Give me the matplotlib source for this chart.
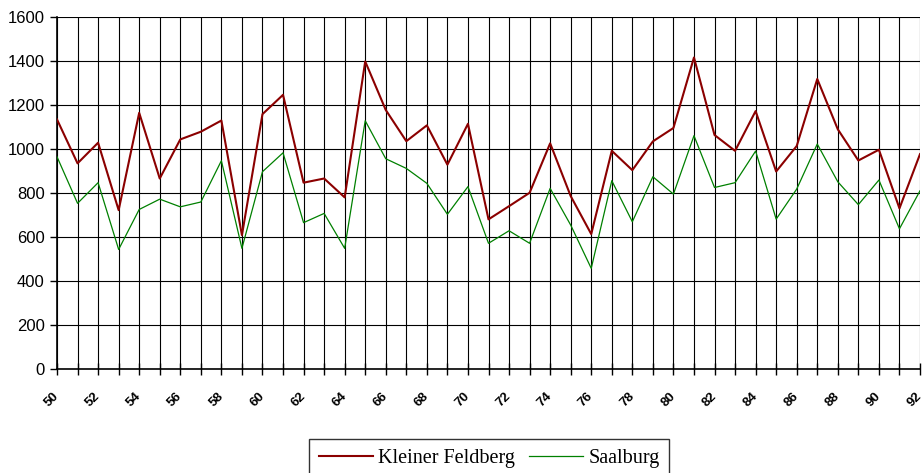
import matplotlib
matplotlib.use("Agg")
import matplotlib.pyplot as plt

years = list(range(1950, 1993))
kleiner_feldberg = [1135, 935, 1029, 722, 1165, 866, 1044, 1079, 1130, 608,
                    1159, 1247, 847, 866, 780, 1399, 1178, 1036, 1108, 929,
                    1115, 680, 740, 801, 1026, 786, 613, 992, 904, 1035,
                    1096, 1417, 1064, 992, 1173, 898, 1014, 1319, 1090, 948,
                    997, 730, 977]
saalburg = [965, 753, 847, 543, 725, 772, 737, 759, 947, 548,
            897, 983, 665, 707, 548, 1129, 956, 912, 844, 703,
            829, 571, 628, 571, 821, 654, 457, 856, 669, 874,
            795, 1061, 825, 847, 991, 681, 818, 1023, 851, 747,
            859, 637, 810]
tick_labels = [str(y % 100) if y % 2 == 0 else "" for y in years]
y_ticks = [0, 200, 400, 600, 800, 1000, 1200, 1400, 1600]

W, H = 924, 473
fig = plt.figure(figsize=(W / 100, H / 100), dpi=100)
ax = fig.add_axes([57 / W, 1 - 368.7 / H, (920 - 57) / W, (368.7 - 17.3) / H])

ax.plot(years, kleiner_feldberg, color="#8B0000", lw=1.5, label="Kleiner Feldberg", zorder=3)
ax.plot(years, saalburg, color="#008000", lw=0.9, label="Saalburg", zorder=3)

ax.set_xlim(years[0], years[-1])
ax.set_ylim(0, 1600)
ax.set_xticks(years)
ax.set_xticklabels(tick_labels, rotation=45, ha="right", va="center",
                   rotation_mode="anchor", fontsize=9.5, fontweight="bold",
                   fontfamily="Liberation Sans")
ax.set_yticks(y_ticks)
ax.set_yticklabels([str(v) for v in y_ticks], fontsize=12, fontfamily="Liberation Sans")

ax.grid(True, color="black", lw=0.8)
ax.set_axisbelow(True)
ax.tick_params(axis="x", direction="inout", length=9, width=1, pad=14)
ax.tick_params(axis="y", direction="out", length=5, width=1, pad=4)
for side in ["top", "right"]:
    ax.spines[side].set_visible(False)
for side in ["left", "bottom"]:
    ax.spines[side].set_linewidth(1.2)

leg = fig.legend(loc="upper center", bbox_to_anchor=(489 / W, 1 - 439 / H),
                 ncol=2, frameon=True, fancybox=False, edgecolor="black",
                 prop={"family": "Liberation Serif", "size": 14.5},
                 handlelength=2.7, handletextpad=0.26, columnspacing=0.67,
                 borderpad=0.5, borderaxespad=0)
leg.get_frame().set_linewidth(1.0)

fig.savefig("out.png", dpi=100)
